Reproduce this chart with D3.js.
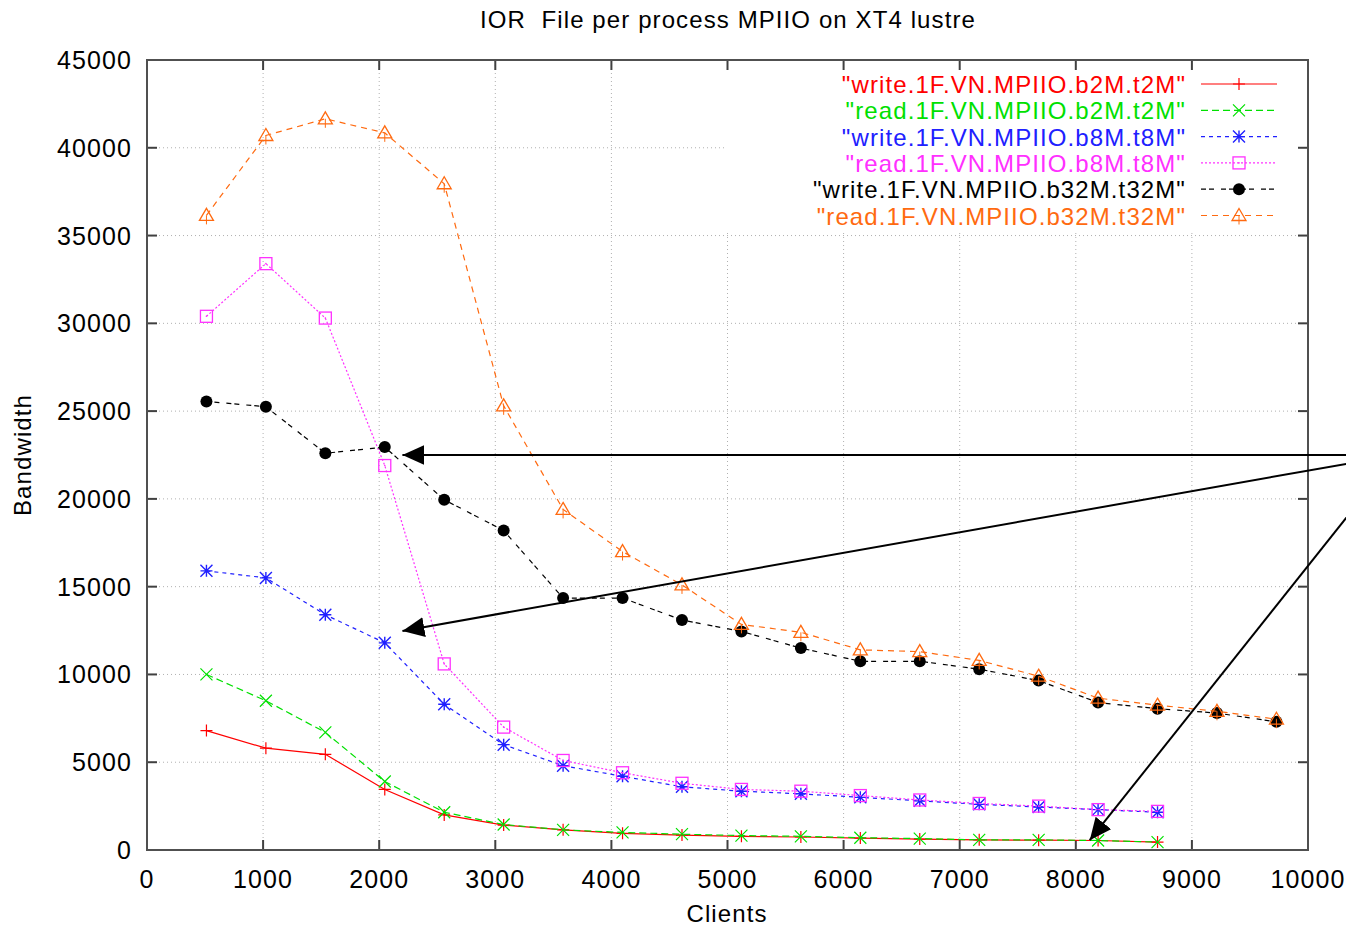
<html>
<head>
<style>
  body { margin: 0; background: #fff; }
  text { font-family: "Liberation Sans", Arial, sans-serif; letter-spacing: 1.1px; }
</style>
</head>
<body>
<script src="https://d3js.org/d3.v7.min.js" charset="utf-8"></script>
<script type="text/javascript">

// data
var clients = [512, 1024, 1536, 2048, 2560, 3072, 3584, 4096, 4608, 5120, 5632, 6144, 6656, 7168, 7680, 8192, 8704, 9216, 9728];

var writeB2M  = [6800, 5800, 5450, 3450, 2000, 1420, 1150, 950, 850, 780, 740, 680, 620, 580, 560, 540, 450];
var readB2M   = [10000, 8500, 6700, 3900, 2150, 1450, 1150, 1000, 900, 820, 780, 700, 650, 580, 580, 540, 450];
var writeB8M  = [15900, 15500, 13400, 11800, 8300, 6000, 4800, 4200, 3600, 3350, 3200, 3000, 2800, 2600, 2450, 2300, 2150];
var readB8M   = [30400, 33400, 30300, 21900, 10600, 7000, 5100, 4400, 3800, 3450, 3350, 3100, 2850, 2650, 2500, 2300, 2200];
var writeB32M = [25550, 25250, 22600, 22950, 19950, 18200, 14350, 14350, 13100, 12450, 11500, 10750, 10750, 10300, 9650, 8400, 8050, 7800, 7300];
var readB32M  = [36150, 40700, 41650, 40850, 37950, 25300, 19400, 17000, 15100, 12850, 12400, 11400, 11300, 10800, 9900, 8650, 8250, 7900, 7450];

var seriesNames = ['"write.1F.VN.MPIIO.b2M.t2M"', '"read.1F.VN.MPIIO.b2M.t2M"', '"write.1F.VN.MPIIO.b8M.t8M"',
                   '"read.1F.VN.MPIIO.b8M.t8M"', '"write.1F.VN.MPIIO.b32M.t32M"', '"read.1F.VN.MPIIO.b32M.t32M"'];

var xTicks = [0, 1000, 2000, 3000, 4000, 5000, 6000, 7000, 8000, 9000, 10000];
var yTicks = [0, 5000, 10000, 15000, 20000, 25000, 30000, 35000, 40000, 45000];

// arrows: [fromX, fromY, toX, toY] in data units
var arrows = [[10760, 22500, 2200, 22500], [10760, 22500, 2200, 12480], [10760, 22500, 8120, 560]];

var styles = [
  { color: "#ff0000", dash: null,      marker: "plus" },
  { color: "#00e000", dash: "7,4",     marker: "cross" },
  { color: "#2020ff", dash: "4,4",     marker: "star" },
  { color: "#ff30ff", dash: "2,2",     marker: "square" },
  { color: "#000000", dash: "5,3,5,7", marker: "circle" },
  { color: "#ff6a10", dash: "6,5",     marker: "triangle" }
];
var allSeries = [writeB2M, readB2M, writeB8M, readB8M, writeB32M, readB32M];

var width = 1346, height = 928;
var svg = d3.select("body").append("svg").attr("width", width).attr("height", height);

var x = d3.scaleLinear().domain([0, 10000]).range([147, 1308]);
var y = d3.scaleLinear().domain([0, 45000]).range([850, 60]);

// grid
var grid = svg.append("g").attr("stroke", "#b0b0b0").attr("stroke-width", 1).attr("stroke-dasharray", "1,3");
grid.selectAll("line.gx").data(xTicks.slice(1, -1)).enter().append("line")
  .attr("x1", function(d) { return x(d); }).attr("x2", function(d) { return x(d); })
  .attr("y1", y(0)).attr("y2", function(d) { return x(d) > 720 ? 233 : y(45000); });
grid.selectAll("line.gy").data(yTicks.slice(1, -1)).enter().append("line")
  .attr("y1", function(d) { return y(d); }).attr("y2", function(d) { return y(d); })
  .attr("x1", x(0)).attr("x2", function(d) { return y(d) < 233 ? 725 : x(10000); });

// axes
var axisG = svg.append("g").attr("font-size", 25).attr("fill", "#000");
axisG.selectAll("text.xt").data(xTicks).enter().append("text")
  .attr("x", function(d) { return x(d); }).attr("y", 888)
  .attr("text-anchor", "middle").text(function(d) { return d; });
axisG.selectAll("text.yt").data(yTicks).enter().append("text")
  .attr("x", 132).attr("y", function(d) { return y(d) + 9; })
  .attr("text-anchor", "end").text(function(d) { return d; });

var ticks = svg.append("g").attr("stroke", "#404040").attr("stroke-width", 2);
xTicks.slice(1, -1).forEach(function(d) {
  ticks.append("line").attr("x1", x(d)).attr("x2", x(d)).attr("y1", 850).attr("y2", 840);
  ticks.append("line").attr("x1", x(d)).attr("x2", x(d)).attr("y1", 60).attr("y2", 70);
});
yTicks.slice(1, -1).forEach(function(d) {
  ticks.append("line").attr("y1", y(d)).attr("y2", y(d)).attr("x1", 147).attr("x2", 157);
  ticks.append("line").attr("y1", y(d)).attr("y2", y(d)).attr("x1", 1308).attr("x2", 1298);
});
svg.append("rect").attr("x", 147).attr("y", 60).attr("width", 1308 - 147).attr("height", 790)
  .attr("fill", "none").attr("stroke", "#505050").attr("stroke-width", 2);

// titles
svg.append("text").attr("x", 728).attr("y", 28).attr("text-anchor", "middle").attr("font-size", 24)
  .attr("xml:space", "preserve").style("white-space", "pre").text("IOR  File per process MPIIO on XT4 lustre");
svg.append("text").attr("x", 727).attr("y", 922).attr("text-anchor", "middle").attr("font-size", 24).text("Clients");
svg.append("text").attr("transform", "translate(31,455) rotate(-90)").attr("text-anchor", "middle")
  .attr("font-size", 24).text("Bandwidth");

// markers
function drawMarker(g, type, cx, cy, color) {
  var s = 6;
  if (type === "plus") {
    g.append("path").attr("d", "M" + (cx - s) + "," + cy + "H" + (cx + s) + "M" + cx + "," + (cy - s) + "V" + (cy + s))
      .attr("stroke", color).attr("stroke-width", 1.2).attr("fill", "none");
  } else if (type === "cross") {
    g.append("path").attr("d", "M" + (cx - s) + "," + (cy - s) + "L" + (cx + s) + "," + (cy + s) + "M" + (cx - s) + "," + (cy + s) + "L" + (cx + s) + "," + (cy - s))
      .attr("stroke", color).attr("stroke-width", 1.2).attr("fill", "none");
  } else if (type === "star") {
    g.append("path").attr("d", "M" + (cx - s) + "," + cy + "H" + (cx + s) + "M" + cx + "," + (cy - s) + "V" + (cy + s) +
        "M" + (cx - s) + "," + (cy - s) + "L" + (cx + s) + "," + (cy + s) + "M" + (cx - s) + "," + (cy + s) + "L" + (cx + s) + "," + (cy - s))
      .attr("stroke", color).attr("stroke-width", 1.4).attr("fill", "none");
  } else if (type === "square") {
    g.append("rect").attr("x", cx - 6).attr("y", cy - 6).attr("width", 12).attr("height", 12)
      .attr("stroke", color).attr("stroke-width", 1.3).attr("fill", "none");
    g.append("circle").attr("cx", cx).attr("cy", cy).attr("r", 0.8).attr("fill", color);
  } else if (type === "circle") {
    g.append("circle").attr("cx", cx).attr("cy", cy).attr("r", 6).attr("fill", color);
  } else if (type === "triangle") {
    g.append("path").attr("d", "M" + cx + "," + (cy - 7) + "L" + (cx + 7) + "," + (cy + 5) + "L" + (cx - 7) + "," + (cy + 5) + "Z")
      .attr("stroke", color).attr("stroke-width", 1.3).attr("fill", "none");
    g.append("line").attr("x1", cx).attr("x2", cx).attr("y1", cy).attr("y2", cy + 9)
      .attr("stroke", color).attr("stroke-width", 1);
  }
}

var line = d3.line().x(function(d) { return x(d[0]); }).y(function(d) { return y(d[1]); });

allSeries.forEach(function(vals, i) {
  var st = styles[i];
  var pts = vals.map(function(v, j) { return [clients[j], v]; });
  var g = svg.append("g");
  g.append("path").datum(pts).attr("d", line).attr("fill", "none")
    .attr("stroke", st.color).attr("stroke-width", 1.2).attr("stroke-dasharray", st.dash);
  pts.forEach(function(p) { drawMarker(g, st.marker, x(p[0]), y(p[1]), st.color); });
});

// legend
var legend = svg.append("g").attr("font-size", 24);
seriesNames.forEach(function(name, i) {
  var st = styles[i];
  var ly = 84 + i * 26.3;
  legend.append("text").attr("x", 1186).attr("y", ly + 9).attr("text-anchor", "end")
    .attr("fill", st.color).text(name);
  legend.append("line").attr("x1", 1201).attr("x2", 1277).attr("y1", ly).attr("y2", ly)
    .attr("stroke", st.color).attr("stroke-width", 1.2).attr("stroke-dasharray", st.dash);
  drawMarker(legend, st.marker, 1239, ly, st.color);
});

// arrows
svg.append("defs").append("marker").attr("id", "head")
  .attr("viewBox", "0 0 22 20").attr("refX", 22).attr("refY", 10)
  .attr("markerWidth", 22).attr("markerHeight", 20).attr("markerUnits", "userSpaceOnUse")
  .attr("orient", "auto")
  .append("path").attr("d", "M0,0L22,10L0,20Z").attr("fill", "#000");
svg.append("g").selectAll("line").data(arrows).enter().append("line")
  .attr("x1", function(d) { return x(d[0]); }).attr("y1", function(d) { return y(d[1]); })
  .attr("x2", function(d) { return x(d[2]); }).attr("y2", function(d) { return y(d[3]); })
  .attr("stroke", "#000").attr("stroke-width", 2).attr("marker-end", "url(#head)");

</script>
</body>
</html>
